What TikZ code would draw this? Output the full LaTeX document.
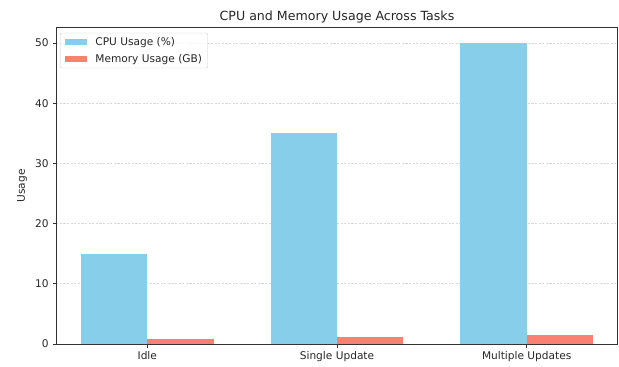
\documentclass[tikz,border=0pt]{standalone}
\usepackage{fontspec}
\setmainfont{DejaVu Sans}
\usetikzlibrary{positioning}

\definecolor{skyblue}{RGB}{135,206,235}
\definecolor{salmon}{RGB}{250,128,114}

\begin{document}
\begin{tikzpicture}
    [
        x=189.7pt,
        y=6.02pt,
        grid line/.style={
                black!15,
                line width=0.6pt,
                dash pattern=on 2.2pt off 1.4pt,
            },
        spine/.style={
                black!80,
                line width=0.9pt,
            },
        tick label/.style={
                font=\fontsize{10.6}{12}\selectfont,
                text=black!85,
                inner sep=0pt,
            },
        patch/.style={
                fill=#1,
                draw=none,
                minimum width=22pt,
                minimum height=6pt,
                inner sep=0pt,
            },
    ]

    \useasboundingbox (-0.7765,-3.821) rectangle (2.4866,57.14);

    % dashed grid behind the bars
    \foreach \v in {10,20,30,40,50}
        \draw [grid line] (-0.48,\v) -- (2.48,\v);

    % bars: cpu left of the tick, memory right of it
    \foreach \i/\cpu/\mem in {0/15/0.8, 1/35/1.2, 2/50/1.5}
        {
            \fill [skyblue] (\i-0.35,0) rectangle (\i,\cpu);
            \fill [salmon] (\i,0) rectangle (\i+0.35,\mem);
        }

    % axes frame
    \draw [spine] (-0.48,0) rectangle (2.48,52.5);

    % y ticks
    \foreach \v in {0,10,...,50}
        {
            \draw [spine] (-0.48,\v) -- ++(-3.7pt,0pt)
                node [tick label, anchor=east, xshift=-3.5pt] (yt\v) {\v};
        }

    % x ticks
    \foreach \i/\task in {0/Idle, 1/Single Update, 2/Multiple Updates}
        {
            \draw [spine] (\i,0) -- ++(0pt,-3.7pt)
                node [tick label, anchor=north, yshift=-3.5pt] (xt\i) {\task};
        }

    % labels
    \node [font=\fontsize{12.6}{14}\selectfont, anchor=base, text=black!85] (title)
        at (1,53.8) {CPU and Memory Usage Across Tasks};
    \node [tick label, rotate=90] (ylab) at (-0.6605,26.25) {Usage};

    % legend
    \draw [black!20, fill=white, fill opacity=0.8, rounded corners=2pt]
        (-0.4599,45.85) rectangle (0.3188,51.66);
    \node [patch=skyblue] (pcpu) at (-0.3758,50.08) {};
    \node [patch=salmon] (pmem) at (-0.3758,47.26) {};
    \node [tick label, anchor=west, right=8pt of pcpu] (lcpu) {CPU Usage (\%)};
    \node [tick label, anchor=west, right=8pt of pmem] (lmem) {Memory Usage (GB)};
\end{tikzpicture}
\end{document}
